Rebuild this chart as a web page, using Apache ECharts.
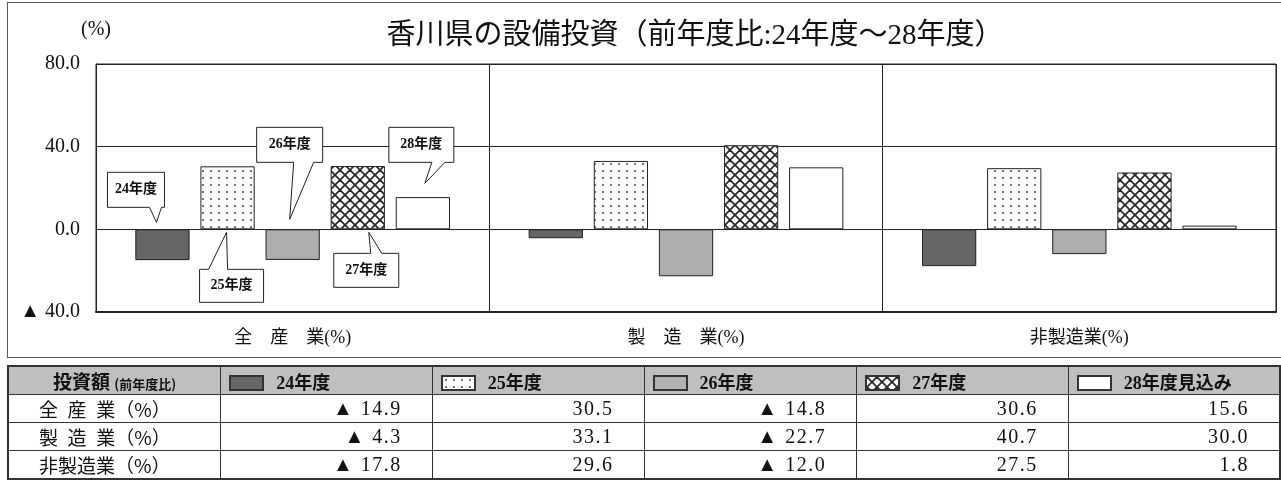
<!DOCTYPE html>
<html>
<head>
<meta charset="utf-8">
<script src="https://cdn.jsdelivr.net/npm/echarts@6/dist/echarts.min.js"></script>
<style>
  html, body { margin: 0; padding: 0; background: #fff; }
  #wrap { position: relative; width: 1281px; height: 486px; overflow: hidden; }
  #chart { position: absolute; left: 0; top: 0; width: 1281px; height: 486px; }
  #frame { position: absolute; left: 7px; top: 2px; width: 1290px; height: 356px;
           border: 1px solid #555; box-sizing: border-box; pointer-events: none; }
  #tbl { position: absolute; left: 7px; top: 365px; border-collapse: collapse;
         table-layout: fixed; border: 2px solid #333; color: #111;
         font-family: 'Liberation Serif', 'Noto Sans CJK JP', serif; }
  #tbl td, #tbl th { border: 1px solid #333; height: 28px; padding: 0; box-sizing: border-box; }
  #tbl th { background: #bfbfbf; font-weight: bold; font-size: 18px; text-align: left;
            font-family: 'Liberation Serif', 'Noto Sans CJK JP', serif; }
  #tbl th.head { text-align: center; font-family: 'Noto Sans CJK JP', sans-serif; font-size: 19px; }
  #tbl th.head small { font-size: 13px; font-weight: bold; }
  #tbl th .sw { display: inline-block; width: 35px; height: 16px; box-sizing: border-box;
                border: 2px solid #333; vertical-align: -2px; margin: 0 12px 0 8px; }
  #tbl td.row { font-family: 'Noto Sans CJK JP', sans-serif; font-size: 19px;
                padding-left: 30px; word-spacing: 0.28em; }
  #tbl td.val { text-align: right; padding-right: 30px; font-size: 20px; letter-spacing: 1.5px; }
</style>
</head>
<body>
<div id="wrap">
  <div id="chart"></div>
  <div id="frame"></div>
  <table id="tbl"></table>
</div>
<script>
// Industries (x categories), fiscal years (series) and year-on-year change in capital investment (%)
const industries = ['全　産　業(%)', '製　造　業(%)', '非製造業(%)'];
const tableRowLabels = ['全 産 業（%）', '製 造 業（%）', '非製造業（%）'];
const years = ['24年度', '25年度', '26年度', '27年度', '28年度見込み'];
const calloutTexts = ['24年度', '25年度', '26年度', '27年度', '28年度'];
const fy24 = [-14.9, -4.3, -17.8];
const fy25 = [30.5, 33.1, 29.6];
const fy26 = [-14.8, -22.7, -12.0];
const fy27 = [30.6, 40.7, 27.5];
const fy28 = [15.6, 30.0, 1.8];
const yTicks = { min: -40, max: 80, interval: 40 };

const seriesValues = [fy24, fy25, fy26, fy27, fy28];

// Fill patterns
function makeDots() {
  const c = document.createElement('canvas');
  c.width = 8; c.height = 7;
  const g = c.getContext('2d');
  g.fillStyle = '#fff'; g.fillRect(0, 0, 8, 7);
  g.fillStyle = '#555';
  g.beginPath(); g.arc(3, 3, 1.1, 0, Math.PI * 2); g.fill();
  return c;
}
function makeHatch() {
  const s = 10;
  const c = document.createElement('canvas');
  c.width = s; c.height = s;
  const g = c.getContext('2d');
  g.fillStyle = '#fff'; g.fillRect(0, 0, s, s);
  g.strokeStyle = '#2a2a2a'; g.lineWidth = 1.8;
  for (let k = -1; k <= 1; k++) {
    g.beginPath(); g.moveTo(k * s, 0); g.lineTo(k * s + s, s); g.stroke();
    g.beginPath(); g.moveTo(k * s + s, 0); g.lineTo(k * s, s); g.stroke();
  }
  return c;
}
const dotCanvas = makeDots();
const hatchCanvas = makeHatch();

const fills = [
  '#666666',
  { image: dotCanvas, repeat: 'repeat' },
  '#adadad',
  { image: hatchCanvas, repeat: 'repeat' },
  '#ffffff'
];
const swatchCss = [
  'background:#666666;',
  'background:#fff url(' + dotCanvas.toDataURL() + ') repeat;',
  'background:#b2b2b2;',
  'background:#fff url(' + hatchCanvas.toDataURL() + ') repeat;',
  'background:#fff;'
];

const serifFont = "'Liberation Serif', 'Noto Sans CJK JP', serif";

const chart = echarts.init(document.getElementById('chart'), null, { renderer: 'canvas' });

chart.setOption({
  animation: false,
  backgroundColor: '#fff',
  title: {
    text: '香川県の設備投資（前年度比:24年度～28年度）',
    left: 690, top: 17, textAlign: 'center',
    textStyle: { fontFamily: serifFont, fontWeight: 'normal', fontSize: 29, color: '#111' }
  },
  grid: { left: 96, right: 5, top: 64, bottom: 174, show: true, borderColor: '#222', borderWidth: 1 },
  xAxis: {
    type: 'category',
    data: industries,
    axisLine: { onZero: false, lineStyle: { color: '#222', width: 2 } },
    axisTick: { show: false },
    splitLine: { show: true, interval: 0, lineStyle: { color: '#222', width: 1 } },
    axisLabel: { margin: 17, fontSize: 18, color: '#111', fontFamily: serifFont }
  },
  yAxis: {
    type: 'value',
    min: yTicks.min, max: yTicks.max, interval: yTicks.interval,
    name: '(%)',
    nameLocation: 'end',
    nameGap: 24,
    nameTextStyle: { fontSize: 20, color: '#111', fontFamily: serifFont, align: 'center' },
    axisLine: { show: true, lineStyle: { color: '#222' } },
    axisTick: { show: false },
    splitLine: { show: true, lineStyle: { color: '#222', width: 1 } },
    axisLabel: {
      margin: 16, fontSize: 20, color: '#111', fontFamily: serifFont,
      formatter: v => (v < 0 ? '▲ ' + Math.abs(v).toFixed(1) : v.toFixed(1))
    }
  },
  series: seriesValues.map((vals, i) => ({
    type: 'bar',
    name: years[i],
    data: vals,
    barCategoryGap: '20%',
    barGap: '20%',
    itemStyle: { color: fills[i], borderColor: '#222', borderWidth: 1 }
  }))
});

// Speech-bubble callouts naming each year, attached to the bars of the first category.
// Offsets are in pixels relative to the bar centre on the zero line.
const calloutLayout = [
  { box: [-55, -57, 2, -22], side: 'bottom', base: [-13, -1], tip: [-6, -7] },
  { box: [-28, 40, 36, 73], side: 'top', base: [-19, 0], tip: [-1, 3] },
  { box: [-36, -102, 30, -67], side: 'bottom', base: [1, 21], tip: [-3, -10] },
  { box: [-24, 24, 41, 58], side: 'top', base: [13, 24], tip: [11, 3] },
  { box: [-34, -102, 31, -67], side: 'bottom', base: [9, 22], tip: [2, -46] }
];

function buildCallouts() {
  const zeroY = chart.convertToPixel({ yAxisIndex: 0 }, 0);
  const els = [];
  calloutLayout.forEach((c, i) => {
    const lay = chart.getModel().getSeriesByIndex(i).getData().getItemLayout(0);
    const cx = lay.x + lay.width / 2;
    const l = cx + c.box[0], t = zeroY + c.box[1], r = cx + c.box[2], b = zeroY + c.box[3];
    const w1 = cx + c.base[0], w2 = cx + c.base[1];
    const tx = cx + c.tip[0], ty = zeroY + c.tip[1];
    const pts = c.side === 'bottom'
      ? [[l, t], [r, t], [r, b], [w2, b], [tx, ty], [w1, b], [l, b]]
      : [[l, t], [w1, t], [tx, ty], [w2, t], [r, t], [r, b], [l, b]];
    els.push({
      type: 'polygon', z: 100,
      shape: { points: pts },
      style: { fill: '#fff', stroke: '#222', lineWidth: 1 }
    });
    els.push({
      type: 'text', z: 101,
      x: (l + r) / 2, y: (t + b) / 2,
      style: {
        text: calloutTexts[i], fill: '#111', align: 'center', verticalAlign: 'middle',
        font: 'bold 14px ' + serifFont
      }
    });
  });
  chart.setOption({ graphic: els });
}
buildCallouts();

// Data table under the chart
function fmt(v) {
  return v < 0 ? '▲ ' + Math.abs(v).toFixed(1) : v.toFixed(1);
}
(function buildTable() {
  const tbl = document.getElementById('tbl');
  const widths = [213, 212, 212, 213, 212, 212];
  let html = '<colgroup>' + widths.map(w => '<col style="width:' + w + 'px">').join('') + '</colgroup>';
  html += '<tr><th class="head">投資額 <small>(前年度比)</small></th>';
  years.forEach((y, i) => {
    html += '<th><span class="sw" style="' + swatchCss[i] + '"></span>' + y + '</th>';
  });
  html += '</tr>';
  tableRowLabels.forEach((lab, r) => {
    html += '<tr><td class="row">' + lab + '</td>';
    seriesValues.forEach(vals => { html += '<td class="val">' + fmt(vals[r]) + '</td>'; });
    html += '</tr>';
  });
  tbl.innerHTML = html;
})();
</script>
</body>
</html>
